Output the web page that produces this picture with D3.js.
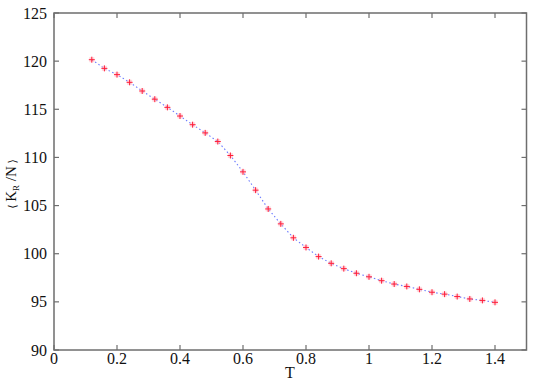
<!DOCTYPE html>
<html><head><meta charset="utf-8">
<script src="https://cdn.jsdelivr.net/npm/d3@7"></script>
<style>body{margin:0;background:#fff}svg{display:block}
text{font-family:"Times New Roman",Times,"Liberation Serif","DejaVu Serif","Noto Serif",Georgia,serif;}</style>
</head><body>
<svg id="c" width="545" height="382"></svg>
<script>
const temps = [0.12,0.16,0.20,0.24,0.28,0.32,0.36,0.40,0.44,0.48,0.52,0.56,0.60,0.64,0.68,0.72,0.76,0.80,0.84,0.88,0.92,0.96,1.00,1.04,1.08,1.12,1.16,1.20,1.24,1.28,1.32,1.36,1.40];
const kr = [120.15,119.25,118.6,117.8,116.9,116.05,115.2,114.3,113.4,112.55,111.65,110.2,108.5,106.6,104.65,103.1,101.65,100.65,99.7,99.0,98.45,97.97,97.6,97.2,96.85,96.6,96.3,96.0,95.8,95.55,95.3,95.15,94.95];
const xTicks = [0,0.2,0.4,0.6,0.8,1,1.2,1.4];
const yTicks = [90,95,100,105,110,115,120,125];

const svg = d3.select("#c");
const L=54, R=526.5, T=13, B=350;
const x = d3.scaleLinear().domain([0,1.5]).range([L,R]);
const y = d3.scaleLinear().domain([90,125]).range([B,T]);
const axisCol = "#6e6e6e";

svg.append("rect").attr("x",L).attr("y",T).attr("width",R-L).attr("height",B-T)
  .attr("fill","none").attr("stroke",axisCol).attr("stroke-width",1.5);

const tl = 5;
xTicks.forEach(t=>{
  svg.append("line").attr("x1",x(t)).attr("x2",x(t)).attr("y1",B).attr("y2",B-tl).attr("stroke",axisCol).attr("stroke-width",1.2);
  svg.append("line").attr("x1",x(t)).attr("x2",x(t)).attr("y1",T).attr("y2",T+tl).attr("stroke",axisCol).attr("stroke-width",1.2);
  svg.append("text").attr("x",x(t)).attr("y",364).attr("text-anchor","middle")
    .attr("font-size",16).attr("fill","#111").text(d3.format("")(t));
});
yTicks.forEach(v=>{
  svg.append("line").attr("x1",L).attr("x2",L+tl).attr("y1",y(v)).attr("y2",y(v)).attr("stroke",axisCol).attr("stroke-width",1.2);
  svg.append("line").attr("x1",R).attr("x2",R-tl).attr("y1",y(v)).attr("y2",y(v)).attr("stroke",axisCol).attr("stroke-width",1.2);
  svg.append("text").attr("x",47).attr("y",y(v)+5.5).attr("text-anchor","end")
    .attr("font-size",16).attr("fill","#111").text(v);
});

svg.append("text").attr("x",290).attr("y",378).attr("text-anchor","middle")
  .attr("font-size",16).attr("fill","#111").text("T");
const yl = svg.append("text").attr("transform","translate(16,184) rotate(-90)").attr("text-anchor","middle")
  .attr("font-size",15).attr("fill","#111");
yl.append("tspan").attr("font-size",11).text("\u27E8 ");
yl.append("tspan").text("K");
yl.append("tspan").attr("font-size",9).attr("dy",3).text("R");
yl.append("tspan").attr("dy",-3).text(" /N");
yl.append("tspan").attr("font-size",11).text(" \u27E9");

const data = temps.map((t,i)=>({t, v:kr[i]}));
svg.append("path").datum(data)
  .attr("d", d3.line().x(d=>x(d.t)).y(d=>y(d.v)))
  .attr("fill","none").attr("stroke","#6b7bff").attr("stroke-width",1.1).attr("stroke-dasharray","1.5,2.5");

const g = svg.append("g");
data.forEach(d=>{
  const cx=x(d.t), cy=y(d.v);
  g.append("rect").attr("x",cx-2.5).attr("y",cy-2.5).attr("width",5).attr("height",5).attr("fill","#ffb0bb").attr("opacity",0.5);
  g.append("line").attr("x1",cx-3).attr("x2",cx+3).attr("y1",cy).attr("y2",cy).attr("stroke","#ff1f3a").attr("stroke-width",1);
  g.append("line").attr("x1",cx).attr("x2",cx).attr("y1",cy-3).attr("y2",cy+3).attr("stroke","#ff1f3a").attr("stroke-width",1);
});
</script>
</body></html>
